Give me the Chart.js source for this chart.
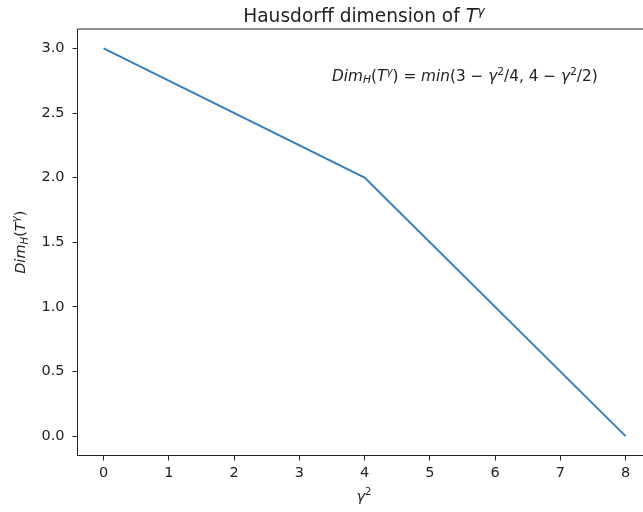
<!DOCTYPE html>
<html>
<head>
<meta charset="utf-8">
<script src="https://cdn.jsdelivr.net/npm/chart.js@4.4.1/dist/chart.umd.min.js"></script>
<style>
  html, body { margin: 0; padding: 0; background: #fff; }
  #wrap { width: 643px; height: 512px; }
</style>
</head>
<body>
<div id="wrap"><canvas id="grafica"></canvas></div>
<script>
// datos
const gamma2 = [0, 4, 8];
const dimH = [3, 2, 0];
const xTicks = [0, 1, 2, 3, 4, 5, 6, 7, 8];
const yTicks = [0, 0.5, 1, 1.5, 2, 2.5, 3];

const FUENTE = "'DejaVu Sans'";
const NEGRO = '#222';

// textos con sub/superindices (mathtext de matplotlib)
const titulo = [{ t: 'Hausdorff dimension of ' }, { t: 'T', i: true }, { t: 'γ', i: true, sup: true }];
const etiquetaY = [{ t: 'Dim', i: true }, { t: 'H', i: true, sub: true }, { t: '(' }, { t: 'T', i: true }, { t: 'γ', i: true, sup: true }, { t: ')' }];
const etiquetaX = [{ t: 'γ', i: true }, { t: '2', sup: true }];
const formula = [
  { t: 'Dim', i: true }, { t: 'H', i: true, sub: true }, { t: '(' }, { t: 'T', i: true }, { t: 'γ', i: true, sup: true }, { t: ')' },
  { t: ' = ' }, { t: 'min', i: true }, { t: '(3 − ' }, { t: 'γ', i: true }, { t: '2', sup: true }, { t: '/4, 4 − ' },
  { t: 'γ', i: true }, { t: '2', sup: true }, { t: '/2)' }
];

function fuentePara(p, size) {
  let s = (p.sup || p.sub) ? size * 0.7 : size;
  return (p.i ? 'italic ' : '') + s + 'px ' + FUENTE;
}

function anchoRico(ctx, partes, size) {
  let w = 0;
  partes.forEach(p => { ctx.font = fuentePara(p, size); w += ctx.measureText(p.t).width; });
  return w;
}

// dibuja el texto empezando en x (izquierda), y = linea base
function textoRico(ctx, partes, x, y, size) {
  ctx.textAlign = 'left';
  ctx.textBaseline = 'alphabetic';
  ctx.fillStyle = NEGRO;
  partes.forEach(p => {
    ctx.font = fuentePara(p, size);
    let dy = 0;
    if (p.sup) dy = -size * 0.38;
    if (p.sub) dy = size * 0.18;
    ctx.fillText(p.t, x, y + dy);
    x += ctx.measureText(p.t).width;
  });
}

const pluginTextos = {
  id: 'textos',
  afterDraw(chart) {
    const ctx = chart.ctx;
    const area = chart.chartArea;
    const sx = chart.scales.x, sy = chart.scales.y;
    ctx.save();
    // marco superior (el derecho queda fuera de la imagen)
    ctx.strokeStyle = NEGRO;
    ctx.lineWidth = 1;
    ctx.beginPath();
    ctx.moveTo(area.left, area.top);
    ctx.lineTo(area.right, area.top);
    ctx.stroke();

    // centro del eje completo (sigue fuera del recorte)
    const centroX = 364;
    let w = anchoRico(ctx, titulo, 18.6);
    textoRico(ctx, titulo, centroX - w / 2, 22, 18.6);
    w = anchoRico(ctx, etiquetaX, 14.5);
    textoRico(ctx, etiquetaX, centroX - w / 2, 501, 14.5);
    // etiqueta y (rotada)
    w = anchoRico(ctx, etiquetaY, 14.5);
    ctx.save();
    ctx.translate(25, (area.top + area.bottom) / 2);
    ctx.rotate(-Math.PI / 2);
    textoRico(ctx, etiquetaY, -w / 2, 0, 14.5);
    ctx.restore();
    // formula dentro del grafico
    textoRico(ctx, formula, sx.getPixelForValue(3.5), sy.getPixelForValue(2.75), 15.3);
    ctx.restore();
  }
};

const puntos = gamma2.map((g, k) => ({ x: g, y: dimH[k] }));

new Chart(document.getElementById('grafica'), {
  type: 'line',
  data: {
    datasets: [{
      data: puntos,
      borderColor: '#3a7dbd',
      borderWidth: 2,
      pointRadius: 0,
      tension: 0,
      fill: false
    }]
  },
  options: {
    responsive: true,
    maintainAspectRatio: false,
    animation: false,
    devicePixelRatio: 1,
    layout: { padding: { top: 29, right: 0, bottom: 0, left: 0 } },
    plugins: {
      legend: { display: false },
      title: { display: false },
      tooltip: { enabled: false }
    },
    scales: {
      x: {
        type: 'linear',
        min: -0.4,
        max: 8.267,
        afterBuildTicks: s => { s.ticks = xTicks.map(v => ({ value: v })); },
        afterFit: s => { s.height = 56.5; },
        ticks: { autoSkip: false, maxRotation: 0, padding: 4, color: NEGRO, font: { family: FUENTE, size: 14.5 } },
        grid: { drawOnChartArea: false, tickLength: 5, color: NEGRO, tickWidth: 1 },
        border: { color: NEGRO, width: 1 }
      },
      y: {
        type: 'linear',
        min: -0.15,
        max: 3.15,
        afterBuildTicks: s => { s.ticks = yTicks.map(v => ({ value: v })); },
        afterFit: s => { s.width = 77.5; },
        ticks: {
          autoSkip: false, padding: 8, color: NEGRO, font: { family: FUENTE, size: 14.5 },
          callback: v => Number(v).toFixed(1)
        },
        grid: { drawOnChartArea: false, tickLength: 5, color: NEGRO, tickWidth: 1 },
        border: { color: NEGRO, width: 1 }
      }
    }
  },
  plugins: [pluginTextos]
});
</script>
</body>
</html>
